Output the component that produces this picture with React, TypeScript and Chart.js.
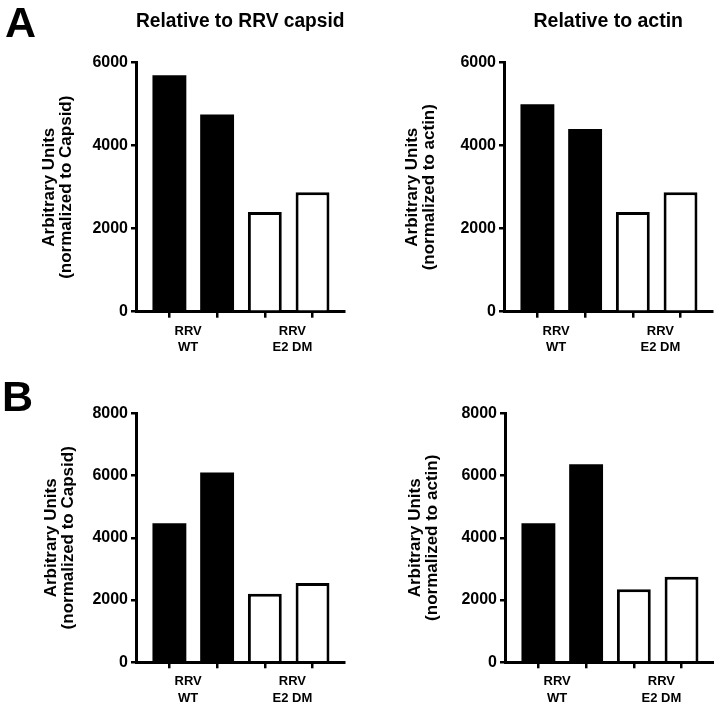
import React, { useEffect, useRef } from 'react';
import { Chart, registerables } from 'chart.js';

Chart.register(...registerables);

// ---------- data ----------
const groupLabels = [['RRV', 'WT'], ['RRV', 'E2 DM']];

const capsidA_WT = [5700, 4750];
const capsidA_DM = [2400, 2880];
const actinA_WT = [5000, 4400];
const actinA_DM = [2400, 2880];

const capsidB_WT = [4470, 6100];
const capsidB_DM = [2200, 2550];
const actinB_WT = [4470, 6360];
const actinB_DM = [2350, 2750];

const yTicksA = [0, 2000, 4000, 6000];
const yTicksB = [0, 2000, 4000, 6000, 8000];

const titleCapsid = 'Relative to RRV capsid';
const titleActin = 'Relative to actin';
const yTitleCapsid = ['Arbitrary Units', '(normalized to Capsid)'];
const yTitleActin = ['Arbitrary Units', '(normalized to actin)'];

const FONT = '"Liberation Sans", Arial, Helvetica, sans-serif';

type Box = { left: number; top: number; w: number; h: number };
type Area = { left: number; top: number; right: number; bottom: number };

interface PanelProps {
  wt: number[];
  dm: number[];
  yTicks: number[];
  title?: string;
  yTitle: string[];
  box: Box;
  area: Area;
  padLeft: number;
}

const H1 = 6;
const H2 = 38.5;

function Panel({ wt, dm, yTicks, title, yTitle, box, area, padLeft }: PanelProps) {
  const ref = useRef<HTMLCanvasElement | null>(null);

  useEffect(() => {
    if (!ref.current) return;
    const wtPts = wt.map((v, i) => ({ x: i + 1, y: v }));
    const dmPts = dm.map((v, i) => ({ x: wt.length + i + 1, y: v }));
    const tickPositions = [...wtPts, ...dmPts].map((p) => p.x);

    const titleSize = 19.5;
    const titleLH = titleSize * 1.2;
    const titlePadTop = 21.5 - titleLH / 2;
    const padBottom = Math.max(0, box.h - area.bottom - H1 - H2);

    const chart = new Chart(ref.current, {
      type: 'bar',
      data: {
        datasets: [
          {
            label: 'WT',
            data: wtPts,
            backgroundColor: '#000',
            borderColor: '#000',
            borderWidth: 0,
            grouped: false,
            categoryPercentage: 1,
            barPercentage: 0.71,
          } as any,
          {
            label: 'E2 DM',
            data: dmPts,
            backgroundColor: '#fff',
            borderColor: '#000',
            borderWidth: 3,
            grouped: false,
            categoryPercentage: 1,
            barPercentage: 0.71,
          } as any,
        ],
      },
      options: {
        responsive: false,
        maintainAspectRatio: false,
        animation: false,
        events: [],
        layout: {
          padding: {
            left: padLeft,
            right: box.w - area.right,
            top: title ? 0 : area.top,
            bottom: padBottom,
          },
        },
        plugins: {
          legend: { display: false },
          tooltip: { enabled: false },
          title: {
            display: !!title,
            text: title || '',
            fullSize: false,
            color: '#000',
            font: { family: FONT, size: titleSize, weight: 'bold', lineHeight: 1.2 },
            padding: { top: titlePadTop, bottom: area.top - titlePadTop - titleLH },
          },
        },
        scales: {
          x: {
            type: 'linear',
            position: 'bottom',
            min: 0.3,
            max: 4.67,
            offset: false,
            weight: 0,
            afterBuildTicks: (scale: any) => {
              scale.ticks = tickPositions.map((v) => ({ value: v }));
            },
            afterFit: (scale: any) => {
              scale.height = H1;
            },
            ticks: { display: false },
            grid: {
              display: true,
              offset: false,
              drawOnChartArea: false,
              drawTicks: true,
              tickLength: 6,
              lineWidth: 2.5,
              color: '#000',
            },
            border: { display: true, color: '#000', width: 3 },
          },
          x2: {
            type: 'category',
            position: 'bottom',
            labels: groupLabels as any,
            offset: true,
            weight: 1,
            afterFit: (scale: any) => {
              scale.height = H2;
            },
            grid: { display: false, drawTicks: false },
            border: { display: false },
            ticks: {
              color: '#000',
              padding: 5,
              maxRotation: 0,
              autoSkip: false,
              font: { family: FONT, size: 13, weight: 'bold', lineHeight: 1.28 },
            },
          },
          y: {
            type: 'linear',
            position: 'left',
            min: yTicks[0],
            max: yTicks[yTicks.length - 1],
            afterBuildTicks: (scale: any) => {
              scale.ticks = yTicks.map((v) => ({ value: v }));
            },
            afterFit: (scale: any) => {
              scale.width = area.left - padLeft;
            },
            ticks: {
              color: '#000',
              padding: 3,
              font: { family: FONT, size: 16, weight: 'bold' },
              callback: (v: any) => String(v),
            },
            grid: {
              display: true,
              drawOnChartArea: false,
              drawTicks: true,
              tickLength: 5,
              lineWidth: 2.5,
              color: '#000',
            },
            border: { display: true, color: '#000', width: 3 },
            title: {
              display: true,
              text: yTitle,
              color: '#000',
              padding: { top: 0, bottom: 0 },
              font: { family: FONT, size: 17, weight: 'bold', lineHeight: 1.0 },
            },
          },
        },
      } as any,
    });
    return () => chart.destroy();
  }, [wt, dm, yTicks, title, yTitle, box, area, padLeft]);

  return (
    <canvas
      ref={ref}
      width={box.w}
      height={box.h}
      style={{ position: 'absolute', left: box.left, top: box.top, width: box.w, height: box.h }}
    />
  );
}

const boxAL: Box = { left: 0, top: 0, w: 357, h: 357 };
const boxAR: Box = { left: 357, top: 0, w: 357, h: 357 };
const boxBL: Box = { left: 0, top: 357, w: 357, h: 350 };
const boxBR: Box = { left: 357, top: 357, w: 357, h: 350 };

const areaAL: Area = { left: 136, top: 62.7, right: 344.5, bottom: 311.7 };
const areaAR: Area = { left: 147, top: 62.7, right: 355.5, bottom: 311.7 };
const areaBL: Area = { left: 136, top: 56.3, right: 344.5, bottom: 305.3 };
const areaBR: Area = { left: 148, top: 56.3, right: 356.5, bottom: 305.3 };

const letterStyle: React.CSSProperties = {
  position: 'absolute',
  fontFamily: FONT,
  fontWeight: 'bold',
  fontSize: 43,
  lineHeight: '43px',
  color: '#000',
};

export default function App() {
  return (
    <div style={{ position: 'absolute', left: 0, top: 0, width: 714, height: 707, background: '#fff', overflow: 'hidden' }}>
      <Panel wt={capsidA_WT} dm={capsidA_DM} yTicks={yTicksA} title={titleCapsid} yTitle={yTitleCapsid} box={boxAL} area={areaAL} padLeft={40.5} />
      <Panel wt={actinA_WT} dm={actinA_DM} yTicks={yTicksA} title={titleActin} yTitle={yTitleActin} box={boxAR} area={areaAR} padLeft={46.5} />
      <Panel wt={capsidB_WT} dm={capsidB_DM} yTicks={yTicksB} yTitle={yTitleCapsid} box={boxBL} area={areaBL} padLeft={42.5} />
      <Panel wt={actinB_WT} dm={actinB_DM} yTicks={yTicksB} yTitle={yTitleActin} box={boxBR} area={areaBR} padLeft={49.5} />
      <div style={{ ...letterStyle, left: 5, top: 1 }}>A</div>
      <div style={{ ...letterStyle, left: 2, top: 374.5 }}>B</div>
    </div>
  );
}
